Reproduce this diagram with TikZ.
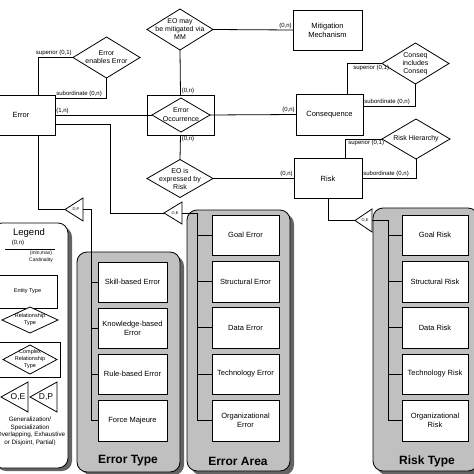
\documentclass[tikz,border=0pt]{standalone}
\usepackage{fontspec}
\setmainfont{Liberation Sans}
\usetikzlibrary{shapes.geometric}
\definecolor{boxgray}{RGB}{192,192,192}
\definecolor{shadegray}{RGB}{100,100,100}

\begin{document}
\begin{tikzpicture}
[x=1pt,y=-1pt,line width=0.8pt,
ent/.style={draw,fill=white,inner sep=0pt,outer sep=0pt,align=center,font=\fontsize{7.5}{9}\selectfont},
rel/.style={draw,fill=white,diamond,inner sep=0pt,outer sep=0pt},
reltext/.style={align=center,inner sep=0pt,font=\fontsize{7}{8}\selectfont},
card/.style={font=\fontsize{6}{7}\selectfont,inner sep=1pt},
tri/.style={font=\fontsize{4}{5}\selectfont,inner sep=0pt},
group/.style={draw,fill=boxgray,rounded corners=10pt},
shade/.style={fill=shadegray,rounded corners=10pt},
grouptitle/.style={font=\fontsize{12}{14}\selectfont\bfseries},
]
\useasboundingbox (0,0) rectangle (474,474);

% containers
\fill[shade] (-4,227) rectangle (72,471);
\fill[shade] (81,256) rectangle (184,475);
\fill[shade] (191,214) rectangle (294,475);
\fill[shade] (377,212) rectangle (482,475);
\draw[group,fill=white] (-8,223) rectangle (68,468);
\draw[group] (77,252) rectangle (180,472);
\draw[group] (187,210) rectangle (290,471);
\draw[group] (373,208) rectangle (478,471);
\node (ettitle) at (128,461)[grouptitle]{Error Type};
\node (eatitle) at (238,461)[grouptitle]{Error Area};
\node (rttitle) at (427,461)[grouptitle]{Risk Type};

% entities
\node (err) at (21,115)[ent,minimum width=68pt,minimum height=40pt]{Error};
\node (occ) at (180.5,115)[ent,minimum width=67pt,minimum height=40pt]{};
\node (occd) at (181,115)[rel,minimum width=58pt,minimum height=34pt,label={[reltext,font=\fontsize{7}{9}\selectfont]center:Error\\Occurrence}]{};
\node (mm) at (327.5,30)[ent,minimum width=69pt,minimum height=40pt]{Mitigation\\Mechanism};
\node (cons) at (329.5,114.5)[ent,minimum width=67pt,minimum height=41pt]{Consequence};
\node (risk) at (328,178.5)[ent,minimum width=68pt,minimum height=40pt]{Risk};

% relationships
\node (eee) at (106.5,57.5)[rel,minimum width=67pt,minimum height=41pt,label={[reltext]center:Error\\enables Error}]{};
\node (eomm) at (180,29.5)[rel,minimum width=66pt,minimum height=41pt,label={[reltext]center:EO may\\be mitigated via\\MM}]{};
\node (cic) at (415.5,63.5)[rel,minimum width=67pt,minimum height=41pt,label={[reltext]center:Conseq\\includes\\Conseq}]{};
\node (rh) at (416,139)[rel,minimum width=68pt,minimum height=40pt,label={[reltext]center:Risk Hierarchy}]{};
\node (eor) at (180,178.5)[rel,minimum width=66pt,minimum height=38pt,label={[reltext]center:EO is\\expressed by\\Risk}]{};

% generalization triangles
\coordinate (t1) at (65,209.5);
\coordinate (t1b) at (83,209.5);
\coordinate (t2) at (164,213);
\coordinate (t2b) at (182,213);
\coordinate (t3) at (355,220.5);
\coordinate (t3b) at (372,220.5);
\draw[fill=white] (t1) -- ++(18,-11.5) -- ++(0,23) -- cycle;
\draw[fill=white] (t2) -- ++(18,-11) -- ++(0,22) -- cycle;
\draw[fill=white] (t3) -- ++(17,-11.5) -- ++(0,23) -- cycle;
\node (t1l) at (76,209.5)[tri]{D,P};
\node (t2l) at (175,213)[tri]{O,E};
\node (t3l) at (365,220.5)[tri]{O,E};

% subtypes
\node (et1) at (132.5,282)[ent,minimum width=69pt,minimum height=40pt]{Skill-based Error};
\node (et2) at (132.5,328)[ent,minimum width=69pt,minimum height=40pt]{Knowledge-based\\Error};
\node (et3) at (132.5,374)[ent,minimum width=69pt,minimum height=40pt]{Rule-based Error};
\node (et4) at (132.5,420.5)[ent,minimum width=69pt,minimum height=41pt]{Force Majeure};
\node (ea1) at (245.5,235)[ent,minimum width=67pt,minimum height=40pt]{Goal Error};
\node (ea2) at (245.5,281.5)[ent,minimum width=67pt,minimum height=41pt]{Structural Error};
\node (ea3) at (245.5,327.5)[ent,minimum width=67pt,minimum height=41pt]{Data Error};
\node (ea4) at (245.5,374)[ent,minimum width=67pt,minimum height=40pt]{Technology Error};
\node (ea5) at (245.5,420.5)[ent,minimum width=67pt,minimum height=41pt]{Organizational\\Error};
\node (rt1) at (435,235)[ent,minimum width=66pt,minimum height=40pt]{Goal Risk};
\node (rt2) at (435,281.5)[ent,minimum width=66pt,minimum height=41pt]{Structural Risk};
\node (rt3) at (435,327.5)[ent,minimum width=66pt,minimum height=41pt]{Data Risk};
\node (rt4) at (435,374)[ent,minimum width=66pt,minimum height=40pt]{Technology Risk};
\node (rt5) at (435,420.5)[ent,minimum width=66pt,minimum height=41pt]{Organizational\\Risk};

% connectors
\draw ([xshift=17pt]err.north) |- (eee.west) node[card,pos=1,anchor=south east]{superior (0,1)};
\draw (eee.south) |- ([yshift=17pt]err.east) node[card,pos=1,anchor=south west]{subordinate (0,n)};
\draw (err.east) -- (occd.west) node[card,pos=0,anchor=south west]{(1,n)};
\draw ([yshift=-9pt]err.east) -- ++(55,0) |- (t2);
\draw ([xshift=17pt]err.south) |- (t1);
\draw (eomm.south) -- (occ.north) node[card,pos=1,anchor=south west]{(0,n)};
\draw (eomm.east) -- (mm.west) node[card,pos=1,anchor=south east]{(0,n)};
\draw (occd.east) -- (cons.west) node[card,pos=1,anchor=south east]{(0,n)};
\draw ([xshift=17.5pt]cons.north) |- (cic.west) node[card,pos=0.5,anchor=north west,xshift=5pt]{superior (0,1)};
\draw (cic.south) |- ([yshift=8.5pt]cons.east) node[card,pos=1,anchor=south west]{subordinate (0,n)};
\draw (occ.south) -- (eor.north) node[card,pos=0,anchor=north west]{(0,n)};
\draw (eor.east) -- (risk.west) node[card,pos=1,anchor=south east]{(0,n)};
\draw ([xshift=17pt]risk.north) |- (rh.west) node[card,pos=0.5,anchor=north west,xshift=2pt]{superior (0,1)};
\draw (rh.south) |- (risk.east) node[card,pos=1,anchor=south west]{subordinate (0,n)};
\draw (risk.south) |- (t3);
\draw (t1b) -| ([xshift=-7pt]et4.west) -- (et4.west);
\draw (t2b) -| ([xshift=-15pt]ea5.west) -- (ea5.west);
\draw (t3b) -| ([xshift=-14pt]rt5.west) -- (rt5.west);
\foreach \b in {et1,et2,et3} \draw (\b.west) -- ++(-7,0);
\foreach \b in {ea1,ea2,ea3,ea4} \draw (\b.west) -- ++(-15,0);
\foreach \b in {rt1,rt2,rt3,rt4} \draw (\b.west) -- ++(-14,0);

% legend
\node (lgtitle) at (29,233)[font=\fontsize{9.5}{11}\selectfont]{Legend};
\node (lgcard) at (18,243)[card]{(0,n)};
\coordinate (lgl) at (5,249);
\coordinate (lgr) at (55,249);
\draw (lgl) -- (lgr);
\node (lgmm) at (41,256.5)[align=center,font=\fontsize{5}{6.5}\selectfont]{(min,max)\\Cardinality};
\node (lgent) at (27.5,291.5)[ent,minimum width=59pt,minimum height=33pt,font=\fontsize{5.5}{7}\selectfont]{Entity Type};
\node (lgrel) at (30,320)[rel,minimum width=56pt,minimum height=26pt,label={[reltext,font=\fontsize{5.5}{7}\selectfont]center:Relationship\\Type}]{};
\node (lgcx) at (29,359.5)[ent,minimum width=62pt,minimum height=35pt]{};
\node (lgcxd) at (30,359.5)[rel,minimum width=54pt,minimum height=29pt,label={[reltext,font=\fontsize{5.5}{7}\selectfont]center:Complex\\Relationship\\Type}]{};
\coordinate (lgt1) at (1,397);
\coordinate (lgt2) at (30,397);
\draw[fill=white] (lgt1) -- ++(27,-15) -- ++(0,30) -- cycle;
\draw[fill=white] (lgt2) -- ++(27,-15) -- ++(0,30) -- cycle;
\node (lgoe) at (18,397)[font=\fontsize{8.5}{10}\selectfont,inner sep=0pt]{O,E};
\node (lgdp) at (46,397)[font=\fontsize{8.5}{10}\selectfont,inner sep=0pt]{D,P};
\node (lggen) at (30,431.5)[align=center,font=\fontsize{6.3}{7.7}\selectfont]{Generalization/\\Specialization\\(Overlapping, Exhaustive\\or Disjoint, Partial)};

\end{tikzpicture}
\end{document}
